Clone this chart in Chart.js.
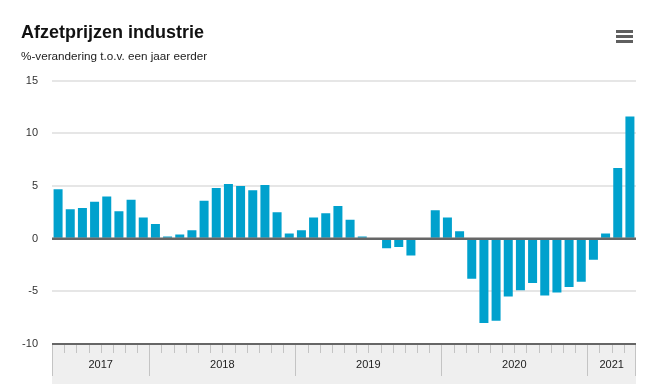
<!DOCTYPE html>
<html>
<head>
<meta charset="utf-8">
<script src="https://cdn.jsdelivr.net/npm/chart.js@4/dist/chart.umd.min.js"></script>
<style>
  html, body { margin: 0; padding: 0; background: #fff; }
  #wrap { width: 667px; height: 384px; position: relative; }
</style>
</head>
<body>
<div id="wrap"><canvas id="chart"></canvas></div>
<script>
const categories = [
  '2017-05', '2017-06', '2017-07', '2017-08', '2017-09', '2017-10', '2017-11', '2017-12',
  '2018-01', '2018-02', '2018-03', '2018-04', '2018-05', '2018-06', '2018-07', '2018-08', '2018-09', '2018-10', '2018-11', '2018-12',
  '2019-01', '2019-02', '2019-03', '2019-04', '2019-05', '2019-06', '2019-07', '2019-08', '2019-09', '2019-10', '2019-11', '2019-12',
  '2020-01', '2020-02', '2020-03', '2020-04', '2020-05', '2020-06', '2020-07', '2020-08', '2020-09', '2020-10', '2020-11', '2020-12',
  '2021-01', '2021-02', '2021-03', '2021-04'
];

const afzetprijzen = [
  4.7, 2.8, 2.9, 3.5, 4.0, 2.6, 3.7, 2.0,
  1.4, 0.2, 0.4, 0.8, 3.6, 4.8, 5.2, 5.0, 4.6, 5.1, 2.5, 0.5,
  0.8, 2.0, 2.4, 3.1, 1.8, 0.2, 0.0, -0.9, -0.8, -1.6, 0.0, 2.7,
  2.0, 0.7, -3.8, -8.0, -7.8, -5.5, -4.9, -4.2, -5.4, -5.1, -4.6, -4.1,
  -2.0, 0.5, 6.7, 11.6
];

const yTicks = [-10, -5, 0, 5, 10, 15];

const colors = {
  bar: '#00a1cd',
  grid: '#e6e6e6',
  axis: '#666666',
  band: '#efefef',
  tick: '#c4c4c4',
  text: '#222222'
};

// zero line, year band under the plot and the menu icon
const decorations = {
  id: 'decorations',
  afterDatasetsDraw(chart) {
    const { ctx, chartArea, scales } = chart;
    const y0 = scales.y.getPixelForValue(0);
    ctx.save();
    ctx.strokeStyle = colors.axis;
    ctx.lineWidth = 2.5;
    ctx.beginPath();
    ctx.moveTo(chartArea.left, y0);
    ctx.lineTo(chartArea.right, y0);
    ctx.stroke();
    ctx.restore();
  },
  afterDraw(chart) {
    const { ctx, chartArea, scales } = chart;
    const x = scales.x;
    const bottom = chartArea.bottom;
    const n = categories.length;
    const half = (x.getPixelForValue(1) - x.getPixelForValue(0)) / 2;

    ctx.save();
    ctx.fillStyle = colors.band;
    ctx.fillRect(chartArea.left, bottom, chartArea.right - chartArea.left, chart.height - bottom);

    // month ticks
    ctx.strokeStyle = colors.tick;
    ctx.lineWidth = 1;
    for (let i = 1; i < n; i++) {
      const px = Math.round(x.getPixelForValue(i) - half) + 0.5;
      const newYear = categories[i].slice(0, 4) !== categories[i - 1].slice(0, 4);
      ctx.beginPath();
      ctx.moveTo(px, bottom);
      ctx.lineTo(px, bottom + (newYear ? 32 : 9));
      ctx.stroke();
    }
    [chartArea.left + 0.5, chartArea.right - 0.5].forEach(px => {
      ctx.beginPath();
      ctx.moveTo(px, bottom);
      ctx.lineTo(px, bottom + 32);
      ctx.stroke();
    });

    // year labels
    ctx.fillStyle = colors.text;
    ctx.font = '11px "Liberation Sans", Arial, sans-serif';
    ctx.textAlign = 'center';
    ctx.textBaseline = 'middle';
    let start = 0;
    for (let i = 1; i <= n; i++) {
      if (i === n || categories[i].slice(0, 4) !== categories[start].slice(0, 4)) {
        const cx = (x.getPixelForValue(start) - half + x.getPixelForValue(i - 1) + half) / 2;
        ctx.fillText(categories[start].slice(0, 4), cx, bottom + 21);
        start = i;
      }
    }

    // axis line on top of the band
    ctx.strokeStyle = colors.axis;
    ctx.lineWidth = 2;
    ctx.beginPath();
    ctx.moveTo(chartArea.left, bottom);
    ctx.lineTo(chartArea.right, bottom);
    ctx.stroke();

    // menu icon
    ctx.fillStyle = '#5f5f5f';
    [30, 35, 40].forEach(y => ctx.fillRect(616, y, 17, 3));
    ctx.restore();
  }
};

new Chart(document.getElementById('chart'), {
  type: 'bar',
  data: {
    labels: categories,
    datasets: [{
      data: afzetprijzen,
      backgroundColor: colors.bar,
      borderWidth: 0,
      barPercentage: 0.74,
      categoryPercentage: 1
    }]
  },
  options: {
    responsive: true,
    maintainAspectRatio: false,
    animation: false,
    layout: { padding: { top: 0, left: 21, right: 31, bottom: 0 } },
    plugins: {
      legend: { display: false },
      tooltip: { enabled: false },
      title: {
        display: true,
        text: 'Afzetprijzen industrie',
        align: 'start',
        color: '#111',
        font: { family: '"Liberation Sans", Arial, sans-serif', size: 18, weight: 'bold', lineHeight: 1.2 },
        padding: { top: 22, bottom: 0 }
      },
      subtitle: {
        display: true,
        text: '%-verandering t.o.v. een jaar eerder',
        align: 'start',
        color: '#222',
        font: { family: '"Liberation Sans", Arial, sans-serif', size: 11.7, lineHeight: 1.2 },
        padding: { top: 6, bottom: 17 }
      }
    },
    scales: {
      x: {
        offset: true,
        ticks: { display: false },
        grid: { display: false },
        border: { display: false },
        afterFit(scale) { scale.height = 40; }
      },
      y: {
        min: -10,
        max: 15,
        afterBuildTicks(scale) { scale.ticks = yTicks.map(v => ({ value: v })); },
        ticks: {
          padding: 14,
          color: '#333',
          font: { family: '"Liberation Sans", Arial, sans-serif', size: 11 }
        },
        grid: {
          drawTicks: false,
          lineWidth: 2,
          color: ctx => ctx.tick.value === 0 ? 'rgba(0,0,0,0)' : colors.grid
        },
        border: { display: false },
        afterFit(scale) { scale.width = 31; }
      }
    }
  },
  plugins: [decorations]
});
</script>
</body>
</html>
